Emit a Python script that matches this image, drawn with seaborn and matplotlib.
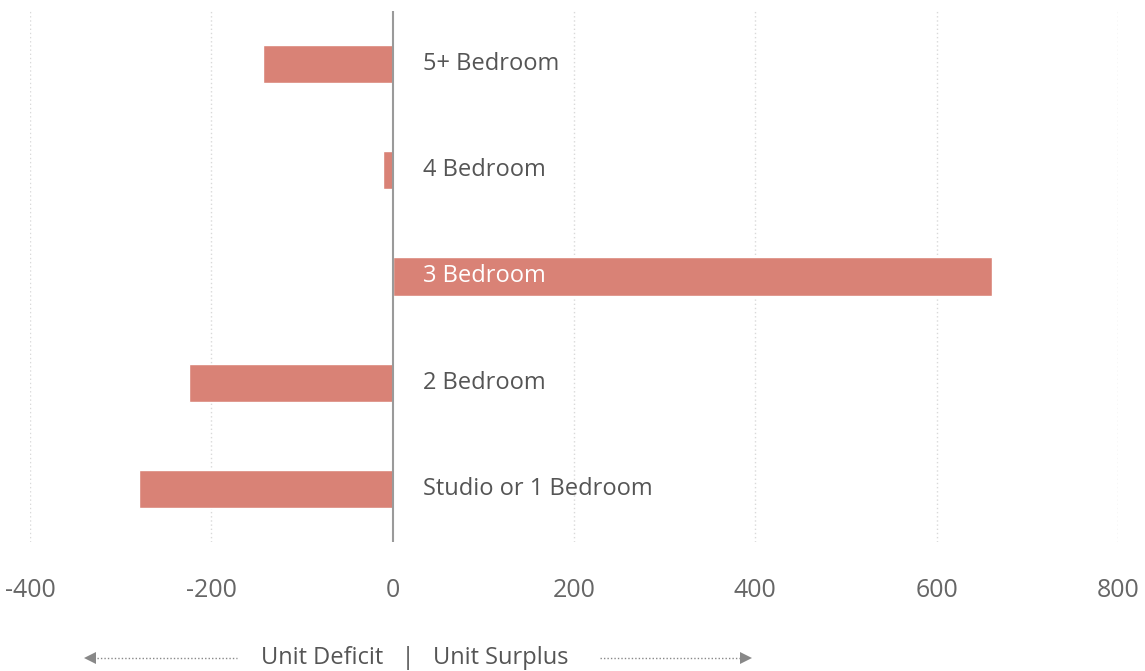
import matplotlib
matplotlib.use("Agg")
import matplotlib.pyplot as plt
from matplotlib.lines import Line2D
import seaborn as sns
import pandas as pd

# --- Data ---
categories = ["5+ Bedroom", "4 Bedroom", "3 Bedroom", "2 Bedroom", "Studio or 1 Bedroom"]
unit_balance = [-143, -11, 661, -225, -280]
x_ticks = [-400, -200, 0, 200, 400, 600, 800]

BAR_COLOR = "#D98276"
TEXT_COLOR = "#555555"
FONT = ["Open Sans", "DejaVu Sans"]

sns.set_theme(style="white")
plt.rcParams["font.family"] = FONT

df = pd.DataFrame({"category": categories, "balance": unit_balance})

fig = plt.figure(figsize=(11.45, 6.71), dpi=100)
ax = fig.add_axes([0.0262, 0.1923, 0.9502, 0.7913])

sns.barplot(data=df, x="balance", y="category", order=categories,
            color=BAR_COLOR, saturation=1, width=0.36, orient="h", ax=ax, zorder=2)

ax.set_xlim(x_ticks[0], x_ticks[-1])
ax.set_ylim(len(categories) - 0.5, -0.5)
ax.set_xticks(x_ticks)
ax.set_xticklabels([str(t) for t in x_ticks], fontsize=18, color="#666666")
ax.tick_params(axis="x", length=0, pad=26)
ax.set_yticks([])
ax.set_xlabel("")
ax.set_ylabel("")
for s in ax.spines.values():
    s.set_visible(False)

# dotted vertical grid, solid zero line
for t in x_ticks:
    if t != 0:
        ax.axvline(t, color="#d9d9d9", lw=1, ls=(0, (1, 2)), zorder=0)
ax.axvline(0, color="#9a9a9a", lw=1.5, zorder=3)

# category labels right of the zero line
for i, (cat, val) in enumerate(zip(categories, unit_balance)):
    inside = val > 100
    ax.text(33, i, cat, va="center", ha="left", fontsize=17,
            color="white" if inside else TEXT_COLOR, zorder=4)

# bottom deficit / surplus legend
y_leg = 1 - 658 / 671
fig.text(0.3625, y_leg, "Unit Deficit   |   Unit Surplus", ha="center", va="center",
         fontsize=17, color=TEXT_COLOR)
fig.add_artist(Line2D([90 / 1145, 237 / 1145], [y_leg, y_leg], transform=fig.transFigure,
                      color="#888888", lw=1, ls=(0, (1, 1.5)), marker="<", markersize=8,
                      markevery=[0], markeredgewidth=0))
fig.add_artist(Line2D([600 / 1145, 746 / 1145], [y_leg, y_leg], transform=fig.transFigure,
                      color="#888888", lw=1, ls=(0, (1, 1.5)), marker=">", markersize=8,
                      markevery=[1], markeredgewidth=0))

fig.savefig("out.png", dpi=100)
